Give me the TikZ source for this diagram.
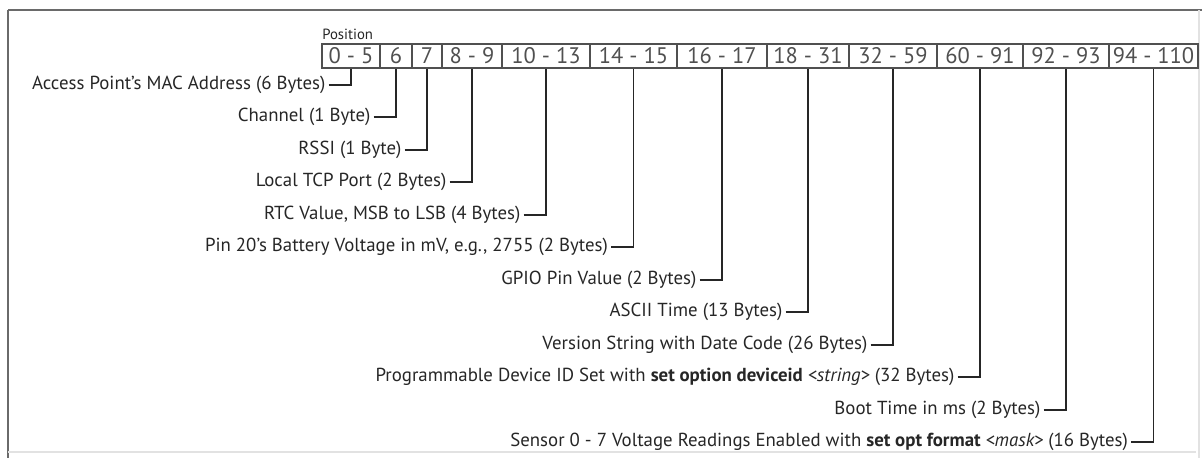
\documentclass[tikz,border=0pt]{standalone}
\usepackage{fontspec}
\setmainfont{PT Sans}
\usetikzlibrary{positioning}

\definecolor{ink}{HTML}{262626}
\definecolor{cellgray}{HTML}{505050}
\definecolor{framegray}{HTML}{6A6A6A}
\definecolor{edgegray}{HTML}{E2E2E2}

\tikzset{
  cell/.style={draw=cellgray, line width=1.1pt, minimum height=0.6cm, inner sep=0pt,
    text=cellgray, font=\fontsize{16}{18}\selectfont},
  lbl/.style={anchor=east, inner sep=2pt, text=ink, font=\fontsize{13.4}{15}\selectfont},
  lead/.style={draw=ink, line width=1.1pt},
}

\begin{document}
\begin{tikzpicture}[x=0.025cm, y=-0.025cm]
\useasboundingbox (0,0) rectangle (1202,458);

% ── Frame ──
\draw[framegray, line width=1.5pt] (8,10) -- (1202,10);
\draw[framegray, line width=1.6pt] (8,10) -- (8,458);
\draw[edgegray, line width=1pt] (8,452) -- (1196,452);
\draw[edgegray, line width=1pt] (1199,10) -- (1199,458);

% ── Position row ──
\node[anchor=west, inner sep=0pt, text=ink, font=\fontsize{10.5}{12}\selectfont] (pos) at (322, 34) {Position};

\foreach \n/\l/\r/\t in {c0/322/380/{0 - 5}, c1/380/412/6, c2/412/442/7, c3/442/502/{8 - 9},
    c4/502/590/{10 - 13}, c5/590/677/{14 - 15}, c6/677/767/{16 - 17}, c7/767/849/{18 - 31},
    c8/849/937/{32 - 59}, c9/937/1023/{60 - 91}, c10/1023/1109/{92 - 93}, c11/1109/1198/{94 - 110}} {
  \pgfmathsetmacro{\w}{(\r-\l)*0.025}
  \node[cell, minimum width=\w cm] (\n) at ({(\l+\r)/2}, 56) {\t};
}

% ── Field labels and leaders ──
\foreach \c/\y/\t in {c0/85/{Access Point’s MAC Address (6 Bytes)},
    c1/117/{Channel (1 Byte)},
    c2/150/{RSSI (1 Byte)},
    c3/182/{Local TCP Port (2 Bytes)},
    c4/215/{RTC Value, MSB to LSB (4 Bytes)},
    c5/247/{Pin 20’s Battery Voltage in mV, e.g., 2755 (2 Bytes)},
    c6/280/{GPIO Pin Value (2 Bytes)},
    c7/312/{ASCII Time (13 Bytes)},
    c8/345/{Version String with Date Code (26 Bytes)},
    c9/377/{Programmable Device ID Set with \textbf{set option deviceid} \textit{<string>} (32 Bytes)},
    c10/410/{Boot Time in ms (2 Bytes)},
    c11/442/{Sensor 0 - 7 Voltage Readings Enabled with \textbf{set opt format} \textit{<mask>} (16 Bytes)}} {
  \node[lbl, xshift=-16pt] (l\c) at (\c.south |- 0,\y) {\t};
  \draw[lead] (l\c.east) -| (\c.south);
}

\end{tikzpicture}
\end{document}
